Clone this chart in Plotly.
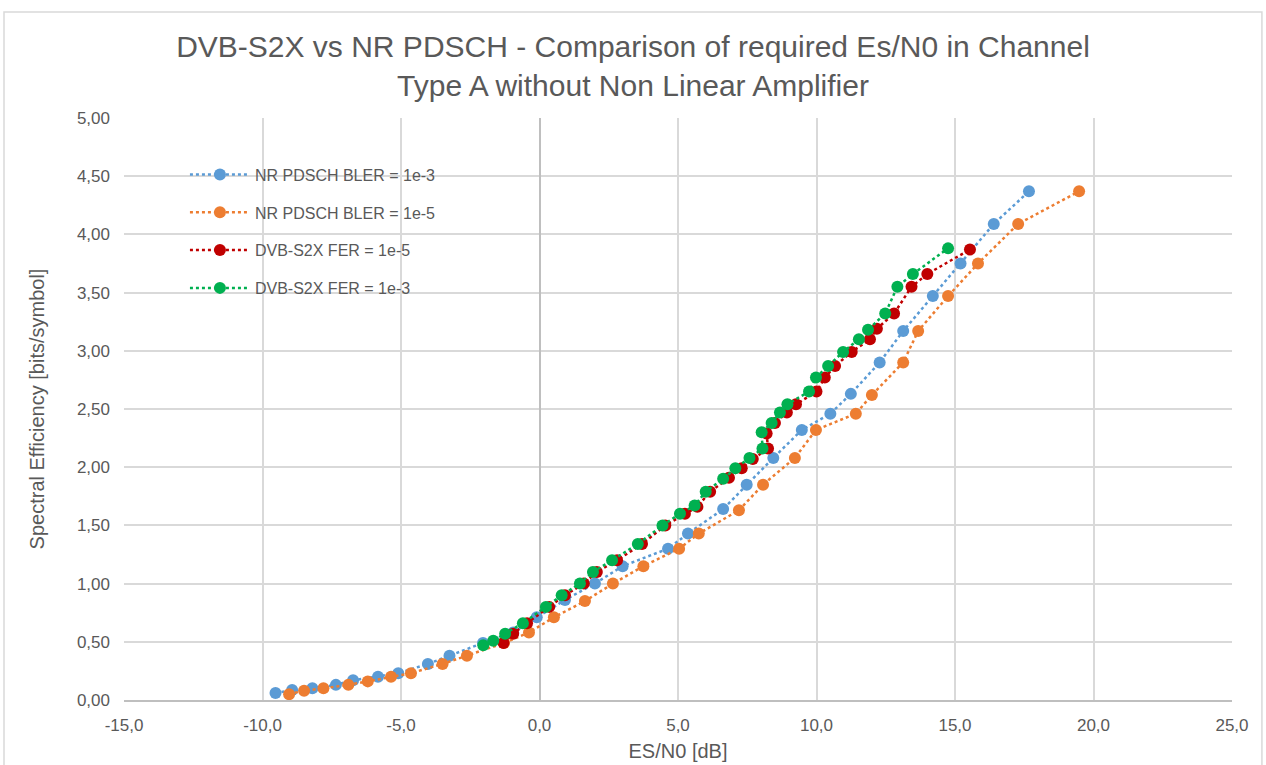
import plotly.graph_objects as go

# NR PDSCH BLER = 1e-3
nr3_x = [-9.53, -8.93, -8.2, -7.35, -6.73, -5.83, -5.1, -4.03, -3.25, -2.04, -0.95, -0.1, 0.92, 2.0, 3.0,
         4.64, 5.36, 6.63, 7.48, 8.44, 9.47, 10.5, 11.24, 12.28, 13.13, 14.2, 15.2, 16.4, 17.67]
nr3_y = [0.06, 0.086, 0.10, 0.13, 0.17, 0.20, 0.23, 0.31, 0.38, 0.49, 0.58, 0.71, 0.86, 1.0, 1.15,
         1.30, 1.43, 1.64, 1.85, 2.08, 2.32, 2.46, 2.63, 2.90, 3.17, 3.47, 3.75, 4.09, 4.37]

# NR PDSCH BLER = 1e-5
nr5_x = [-9.04, -8.5, -7.8, -6.9, -6.2, -5.36, -4.64, -3.5, -2.62, -1.28, -0.38, 0.52, 1.64, 2.65, 3.75,
         5.04, 5.75, 7.2, 8.07, 9.22, 9.98, 11.42, 12.0, 13.13, 13.67, 14.75, 15.83, 17.28, 19.48]
nr5_y = [0.05, 0.08, 0.10, 0.13, 0.16, 0.20, 0.23, 0.31, 0.38, 0.49, 0.58, 0.71, 0.85, 1.0, 1.15,
         1.30, 1.43, 1.63, 1.85, 2.08, 2.32, 2.46, 2.62, 2.90, 3.17, 3.47, 3.75, 4.09, 4.37]

# DVB-S2X FER = 1e-5
s2x5_x = [-1.3, -0.95, -0.45, 0.35, 0.92, 1.6, 2.07, 2.8, 3.7, 4.54, 5.25, 5.7, 6.16, 6.84, 7.3, 7.7,
          8.25, 8.2, 8.5, 8.93, 9.26, 10.0, 10.3, 10.67, 11.27, 11.93, 12.18, 12.8, 13.43, 14.0, 15.54]
s2x5_y = [0.49, 0.57, 0.66, 0.80, 0.90, 1.0, 1.10, 1.20, 1.34, 1.50, 1.60, 1.66, 1.79, 1.91, 1.99, 2.07,
          2.16, 2.29, 2.38, 2.47, 2.54, 2.65, 2.77, 2.87, 2.99, 3.10, 3.19, 3.32, 3.55, 3.66, 3.87]

# DVB-S2X FER = 1e-3
s2x3_x = [-2.03, -1.67, -1.24, -0.6, 0.23, 0.8, 1.46, 1.93, 2.62, 3.55, 4.44, 5.07, 5.6, 6.0, 6.63, 7.07,
          7.58, 8.05, 8.02, 8.38, 8.68, 8.95, 9.73, 9.98, 10.42, 10.96, 11.53, 11.86, 12.48, 12.92, 13.48, 14.75]
s2x3_y = [0.47, 0.51, 0.57, 0.66, 0.80, 0.90, 1.0, 1.10, 1.20, 1.34, 1.50, 1.60, 1.67, 1.79, 1.90, 1.99,
          2.08, 2.16, 2.30, 2.38, 2.47, 2.54, 2.65, 2.77, 2.87, 2.99, 3.10, 3.18, 3.32, 3.55, 3.66, 3.88]

x_ticks = [-15, -10, -5, 0, 5, 10, 15, 20, 25]
x_tick_labels = ["-15,0", "-10,0", "-5,0", "0,0", "5,0", "10,0", "15,0", "20,0", "25,0"]
y_ticks = [0, 0.5, 1, 1.5, 2, 2.5, 3, 3.5, 4, 4.5, 5]
y_tick_labels = ["0,00", "0,50", "1,00", "1,50", "2,00", "2,50", "3,00", "3,50", "4,00", "4,50", "5,00"]

series = [
    ("NR PDSCH BLER = 1e-3", nr3_x, nr3_y, "#5B9BD5"),
    ("NR PDSCH BLER = 1e-5", nr5_x, nr5_y, "#ED7D31"),
    ("DVB-S2X FER = 1e-5", s2x5_x, s2x5_y, "#C00000"),
    ("DVB-S2X FER = 1e-3", s2x3_x, s2x3_y, "#00B050"),
]

fig = go.Figure()
for i, (name, xs, ys, col) in enumerate(series):
    fig.add_trace(go.Scatter(
        x=xs, y=ys, name=name, mode="lines+markers",
        line=dict(color=col, width=2.5, dash="dot"),
        marker=dict(color=col, size=12),
        legendgroup=f"g{i}",
    ))

grid = "#d9d9d9"
fig.update_layout(
    width=1266, height=765,
    paper_bgcolor="white", plot_bgcolor="white",
    margin=dict(l=124, r=34, t=118, b=65, autoexpand=False),
    font=dict(family="Liberation Sans, Arial, sans-serif", color="#595959"),
    title=dict(
        text="DVB-S2X vs NR PDSCH - Comparison of required Es/N0 in Channel<br>Type A without Non Linear Amplifier",
        x=0.5, xanchor="center", y=0.926, yanchor="top",
        font=dict(size=30, color="#595959"),
    ),
    showlegend=True,
    legend=dict(
        x=0.055, y=0.932, xanchor="left", yanchor="top",
        bgcolor="rgba(0,0,0,0)", font=dict(size=16, color="#595959"),
        tracegroupgap=14, itemwidth=60,
    ),
    xaxis=dict(
        range=[-15, 25], tickvals=x_ticks, ticktext=x_tick_labels,
        showgrid=True, gridcolor=grid, gridwidth=1.5,
        zeroline=True, zerolinecolor="#bfbfbf", zerolinewidth=2,
        showline=True, linecolor="#bfbfbf", linewidth=1.5,
        ticks="", tickfont=dict(size=17, color="#595959"), ticklabelstandoff=9,
        automargin=False,
        title=dict(text="ES/N0 [dB]", font=dict(size=20, color="#595959"), standoff=10),
    ),
    yaxis=dict(
        range=[0, 5], tickvals=y_ticks, ticktext=y_tick_labels,
        showgrid=True, gridcolor=grid, gridwidth=1.5,
        zeroline=False, showline=False,
        ticks="", tickfont=dict(size=17, color="#595959"), ticklabelstandoff=13,
        automargin=False,
        title=dict(text="Spectral Efficiency [bits/symbol]", font=dict(size=20, color="#595959"), standoff=26),
    ),
)

fig.add_shape(type="rect", xref="paper", yref="paper",
              x0=-0.1083, x1=1.027, y0=-0.12, y1=1.182,
              line=dict(color="#d9d9d9", width=1.5), fillcolor="rgba(0,0,0,0)", layer="below")

fig.write_html("out.html")
